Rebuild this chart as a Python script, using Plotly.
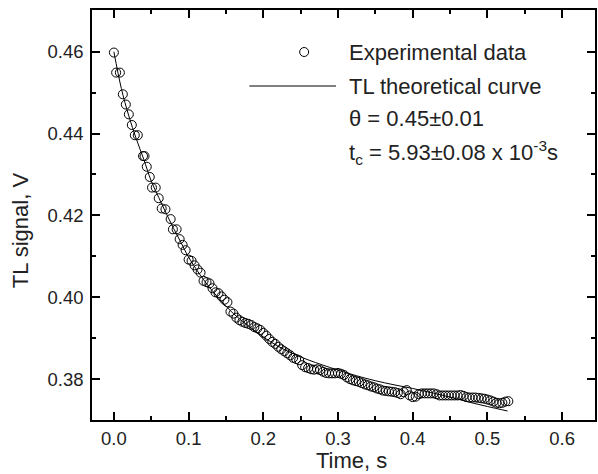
import plotly.graph_objects as go

time_s = [0.000, 0.003, 0.008, 0.012, 0.016, 0.020, 0.024, 0.028, 0.032, 0.039,
          0.041, 0.044, 0.048, 0.051, 0.056, 0.060, 0.064, 0.069, 0.076, 0.079,
          0.084, 0.088, 0.092, 0.096, 0.100, 0.104, 0.108, 0.112, 0.116, 0.120,
          0.124, 0.128, 0.132, 0.136, 0.140, 0.144, 0.148, 0.152, 0.156, 0.160,
          0.164, 0.168, 0.172, 0.176, 0.180, 0.184, 0.188, 0.192, 0.196, 0.200,
          0.204, 0.208, 0.212, 0.216, 0.220, 0.224, 0.228, 0.232, 0.236, 0.240,
          0.244, 0.248, 0.252, 0.256, 0.260, 0.264, 0.268, 0.272, 0.276, 0.280,
          0.284, 0.288, 0.292, 0.296, 0.300, 0.304, 0.308, 0.312, 0.316, 0.320,
          0.324, 0.328, 0.332, 0.336, 0.340, 0.344, 0.348, 0.352, 0.356, 0.360,
          0.364, 0.368, 0.372, 0.376, 0.380, 0.384, 0.388, 0.392, 0.396, 0.400,
          0.404, 0.408, 0.412, 0.416, 0.420, 0.424, 0.428, 0.432, 0.436, 0.440,
          0.444, 0.448, 0.452, 0.456, 0.460, 0.464, 0.468, 0.472, 0.476, 0.480,
          0.484, 0.488, 0.492, 0.496, 0.500, 0.504, 0.508, 0.512, 0.516, 0.520,
          0.524, 0.528]
signal_v = [0.4598, 0.4549, 0.4549, 0.4496, 0.4471, 0.4447, 0.4421, 0.4396, 0.4396, 0.4345,
            0.4345, 0.4319, 0.4294, 0.4268, 0.4268, 0.4242, 0.4217, 0.4215, 0.4191, 0.4166,
            0.4166, 0.4142, 0.4128, 0.4115, 0.4092, 0.4089, 0.4078, 0.4068, 0.4060, 0.4040,
            0.4037, 0.4034, 0.4022, 0.4012, 0.4010, 0.4002, 0.3994, 0.3988, 0.3965, 0.3960,
            0.3950, 0.3944, 0.3940, 0.3937, 0.3935, 0.3932, 0.3927, 0.3924, 0.3920, 0.3913,
            0.3906, 0.3898, 0.3891, 0.3886, 0.3879, 0.3873, 0.3868, 0.3863, 0.3858, 0.3852,
            0.3849, 0.3846, 0.3834, 0.3829, 0.3827, 0.3824, 0.3823, 0.3824, 0.3822, 0.3818,
            0.3815, 0.3814, 0.3814, 0.3814, 0.3815, 0.3813, 0.3810, 0.3804, 0.3800, 0.3797,
            0.3795, 0.3793, 0.3790, 0.3787, 0.3785, 0.3782, 0.3780, 0.3777, 0.3775, 0.3772,
            0.3771, 0.3770, 0.3769, 0.3768, 0.3766, 0.3763, 0.3768, 0.3773, 0.3760, 0.3756,
            0.3757, 0.3763, 0.3765, 0.3765, 0.3765, 0.3765, 0.3765, 0.3763, 0.3760, 0.3760,
            0.3760, 0.3760, 0.3760, 0.3760, 0.3760, 0.3761, 0.3759, 0.3756, 0.3755, 0.3755,
            0.3755, 0.3754, 0.3753, 0.3752, 0.3750, 0.3748, 0.3745, 0.3742, 0.3741, 0.3742,
            0.3745, 0.3746]

# Theoretical TL curve samples
curve_t = [0.000, 0.010, 0.020, 0.030, 0.040, 0.050, 0.060, 0.070, 0.080, 0.090,
           0.100, 0.120, 0.140, 0.160, 0.180, 0.200, 0.220, 0.240, 0.260, 0.280,
           0.300, 0.325, 0.350, 0.375, 0.400, 0.425, 0.450, 0.475, 0.500, 0.527]
curve_v = [0.4600, 0.4510, 0.4443, 0.4387, 0.4337, 0.4284, 0.4244, 0.4205, 0.4168, 0.4133,
           0.4098, 0.4043, 0.3998, 0.3960, 0.3930, 0.3903, 0.3880, 0.3862, 0.3847, 0.3834,
           0.3822, 0.3808, 0.3796, 0.3786, 0.3777, 0.3767, 0.3756, 0.3744, 0.3733, 0.3722]

x_ticks = [0.0, 0.1, 0.2, 0.3, 0.4, 0.5, 0.6]
x_tick_text = ["0.0", "0.1", "0.2", "0.3", "0.4", "0.5", "0.6"]
y_ticks = [0.38, 0.40, 0.42, 0.44, 0.46]
y_tick_text = ["0.38", "0.40", "0.42", "0.44", "0.46"]

legend_labels = ["Experimental data", "TL theoretical curve"]
fit_texts = ["\u03b8 = 0.45\u00b10.01", "t<sub>c</sub> = 5.93\u00b10.08 x 10<sup>-3</sup>s"]

FONT = "Arial, Liberation Sans, Helvetica, sans-serif"

fig = go.Figure()
fig.add_trace(go.Scatter(x=curve_t, y=curve_v, mode="lines", line=dict(color="black", width=1, shape="spline"),
                         showlegend=False, hoverinfo="skip"))
fig.add_trace(go.Scatter(x=time_s, y=signal_v, mode="markers",
                         marker=dict(symbol="circle-open", size=9, color="black", line=dict(width=1, color="black")),
                         showlegend=False))

L, R, T, B = 92, 597, 10, 420
W, H = 598, 474
pw, ph = R - L, B - T


def px(x):
    return (x - L) / pw


def py(y):
    return (B - y) / ph


axis_common = dict(showline=True, linecolor="black", linewidth=1.5, mirror="ticks", ticks="inside",
                   ticklen=8, tickwidth=1.5, tickcolor="black", showgrid=False, zeroline=False,
                   tickfont=dict(family=FONT, size=18.5, color="#222"))

fig.update_xaxes(range=[-0.0293, 0.644], tickvals=x_ticks, ticktext=x_tick_text,
                 minor=dict(ticks="inside", ticklen=4, tickwidth=1.5, tickcolor="black", dtick=0.05, tick0=0,
                            showgrid=False),
                 ticklabelstandoff=1, **axis_common)
fig.update_yaxes(range=[0.370, 0.4702], tickvals=y_ticks, ticktext=y_tick_text,
                 minor=dict(ticks="inside", ticklen=4, tickwidth=1.5, tickcolor="black", dtick=0.01, tick0=0.37,
                            showgrid=False),
                 ticklabelstandoff=3, **axis_common)

TXT = 22
annotations = [
    dict(text="Time, s", x=px(353), y=py(460), xref="paper", yref="paper", showarrow=False,
         xanchor="center", yanchor="middle", font=dict(family=FONT, size=TXT, color="#222")),
    dict(text="TL signal, V", x=px(20), y=py(230), xref="paper", yref="paper", showarrow=False,
         xanchor="center", yanchor="middle", textangle=-90, font=dict(family=FONT, size=TXT, color="#222")),
    dict(text=legend_labels[0], x=px(348), y=py(53), xref="paper", yref="paper", showarrow=False,
         xanchor="left", yanchor="middle", font=dict(family=FONT, size=TXT, color="#222")),
    dict(text=legend_labels[1], x=px(348), y=py(86), xref="paper", yref="paper", showarrow=False,
         xanchor="left", yanchor="middle", font=dict(family=FONT, size=TXT, color="#222")),
    dict(text=fit_texts[0], x=px(348), y=py(118), xref="paper", yref="paper", showarrow=False,
         xanchor="left", yanchor="middle", font=dict(family=FONT, size=TXT, color="#222")),
    dict(text=fit_texts[1], x=px(348), y=py(152), xref="paper", yref="paper", showarrow=False,
         xanchor="left", yanchor="middle", font=dict(family=FONT, size=TXT, color="#222")),
]

shapes = [
    dict(type="line", xref="paper", yref="paper", x0=px(250), x1=px(337), y0=py(86), y1=py(86),
         line=dict(color="black", width=1)),
    dict(type="circle", xref="paper", yref="paper", xsizemode="pixel", ysizemode="pixel",
         xanchor=px(305), yanchor=py(52), x0=-4.5, x1=4.5, y0=-4.5, y1=4.5,
         line=dict(color="black", width=1)),
]

fig.update_layout(width=W, height=H, margin=dict(l=L, r=W - R, t=T, b=H - B),
                  paper_bgcolor="white", plot_bgcolor="white", annotations=annotations, shapes=shapes,
                  showlegend=False)

fig.write_html("out.html", config={"displayModeBar": False},
               post_script="document.body.style.margin='0';document.body.style.overflow='hidden';")
